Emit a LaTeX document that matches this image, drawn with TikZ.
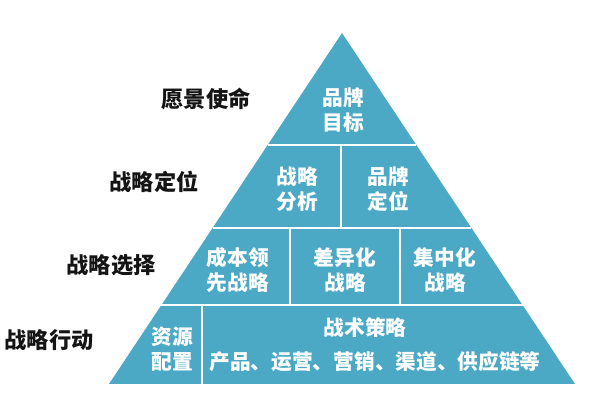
\documentclass[tikz,border=0pt]{standalone}
\usepackage{fontspec}
\setmainfont{Noto Sans CJK SC}
\usepackage{tikz}
\usetikzlibrary{calc}
\definecolor{PyrTeal}{RGB}{76,169,198}
\definecolor{LblBlack}{RGB}{20,20,20}

\begin{document}
\begin{tikzpicture}[x=0.025cm, y=-0.025cm,
          blk/.style={font=\fontsize{14.7}{18}\selectfont\bfseries, text=white,
                      align=center, inner sep=0pt},
          lvl/.style={font=\fontsize{15.8}{18}\selectfont\bfseries, text=LblBlack,
                      inner sep=0pt},
          sep/.style={draw=white, line width=1.4pt}
        ]
        \useasboundingbox (0,0) rectangle (600,400);

        % pyramid
        \coordinate (top) at (342,33);
        \coordinate (bl)  at (109,384);
        \coordinate (br)  at (575,384);
        \fill[PyrTeal] (top) -- (bl) -- (br) -- cycle;

        % level dividers
        \foreach \t in {0.319, 0.5556, 0.775} {
          \draw[sep] ($(top)!\t!(bl)$) -- ($(top)!\t!(br)$);
        }
        \draw[sep] (341,145) -- (341,228);
        \draw[sep] (290,228) -- (290,305);
        \draw[sep] (400,228) -- (400,305);
        \draw[sep] (202,305) -- (202,384);

        % blocks
        \node[blk] (goal) at (343,110) {品牌\\目标};
        \node[blk] (ana)  at (297,189) {战略\\分析};
        \node[blk] (pos)  at (388,189) {品牌\\定位};
        \node[blk] (cost) at (238,270) {成本领\\先战略};
        \node[blk] (diff) at (345,270) {差异化\\战略};
        \node[blk] (foc)  at (445,270) {集中化\\战略};
        \node[blk] (res)  at (172,349) {资源\\配置};
        \node[blk] (tac)  at (365,328) {战术策略};
        \node[blk] (mix)  at (375,362) {产品、运营、营销、渠道、供应链等};

        % level names
        \node[lvl] (vis)  at (206,99)  {愿景使命};
        \node[lvl] (sp)   at (154,182) {战略定位};
        \node[lvl] (sc)   at (111,265) {战略选择};
        \node[lvl] (sa)   at (49,340)  {战略行动};
      \end{tikzpicture}
\end{document}
